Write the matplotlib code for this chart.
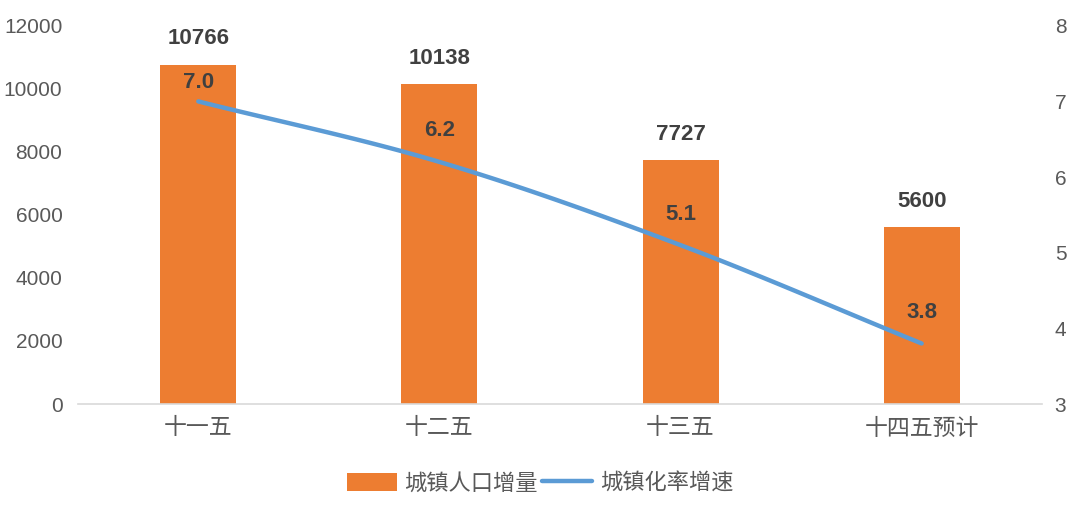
import numpy as np
import matplotlib.pyplot as plt

plt.rcParams['font.family'] = ['Liberation Sans', 'Noto Sans CJK SC', 'DejaVu Sans']

# 数据
periods = ['十一五', '十二五', '十三五', '十四五预计']
pop_increase = [10766, 10138, 7727, 5600]     # 城镇人口增量
urban_rate_growth = [7.0, 6.2, 5.1, 3.8]      # 城镇化率增速

bar_color = '#ED7D31'
line_color = '#5B9BD5'
tick_color = '#595959'
label_color = '#404040'

fig = plt.figure(figsize=(10.8, 5.05), dpi=100)
ax = fig.add_axes([0.072, 0.2, 0.893, 0.749])
ax2 = ax.twinx()

x = np.arange(len(periods))
bars = ax.bar(x, pop_increase, width=0.315, color=bar_color, label='城镇人口增量', zorder=2)

ax.set_xlim(-0.5, len(periods) - 0.5)
ax.set_ylim(0, 12000)
ax.set_yticks(np.arange(0, 12001, 2000))
ax2.set_ylim(3, 8)
ax2.set_yticks(np.arange(3, 9, 1))

# 平滑折线（Catmull-Rom 曲线，仅用于绘制）
def smooth(xs, ys, n=30):
    xs = np.asarray(xs, float)
    ys = np.asarray(ys, float)
    px = np.concatenate([[2 * xs[0] - xs[1]], xs, [2 * xs[-1] - xs[-2]]])
    py = np.concatenate([[2 * ys[0] - ys[1]], ys, [2 * ys[-1] - ys[-2]]])
    ox, oy = [], []
    for i in range(1, len(px) - 2):
        t = np.linspace(0, 1, n)
        for p, out in ((px, ox), (py, oy)):
            p0, p1, p2, p3 = p[i - 1], p[i], p[i + 1], p[i + 2]
            out.extend(0.5 * (2 * p1 + (-p0 + p2) * t
                              + (2 * p0 - 5 * p1 + 4 * p2 - p3) * t ** 2
                              + (-p0 + 3 * p1 - 3 * p2 + p3) * t ** 3))
    return ox, oy

sx, sy = smooth(x, urban_rate_growth)
line, = ax2.plot(sx, sy, color=line_color, lw=3.2, solid_capstyle='round',
                 label='城镇化率增速', zorder=3)

# 数据标签
for xi, v in zip(x, pop_increase):
    ax.annotate(str(v), (xi, v), xytext=(0, 26), textcoords='offset pixels',
                ha='center', va='center', fontsize=16, fontweight='bold',
                color=label_color)
for i, (xi, v) in enumerate(zip(x, urban_rate_growth)):
    off = 19 if i == 0 else 31
    ax2.annotate(f'{v:.1f}', (xi, v), xytext=(0, off), textcoords='offset pixels',
                 ha='center', va='center', fontsize=16, fontweight='bold',
                 color=label_color)

for a in (ax, ax2):
    for s in a.spines.values():
        s.set_visible(False)
    a.tick_params(axis='y', length=0, labelsize=15, labelcolor=tick_color)
ax.tick_params(axis='y', pad=11)
ax2.tick_params(axis='y', pad=9)
ax.spines['bottom'].set_visible(True)
ax.spines['bottom'].set_color('#D9D9D9')
ax.spines['bottom'].set_linewidth(1.2)
ax.set_xticks(x)
ax.set_xticklabels(periods)
ax.tick_params(axis='x', length=0, labelsize=16.5, labelcolor=tick_color, pad=9)

ax.set_zorder(1)
ax2.set_zorder(2)
ax.patch.set_visible(False)

fig.legend([bars, line], ['城镇人口增量', '城镇化率增速'], loc='center',
           bbox_to_anchor=(0.5, 0.042), ncol=2, frameon=False, fontsize=16,
           labelcolor=tick_color, handlelength=2.25, handleheight=0.9,
           columnspacing=0.2, handletextpad=0.35)

fig.savefig('out.png', dpi=100)
